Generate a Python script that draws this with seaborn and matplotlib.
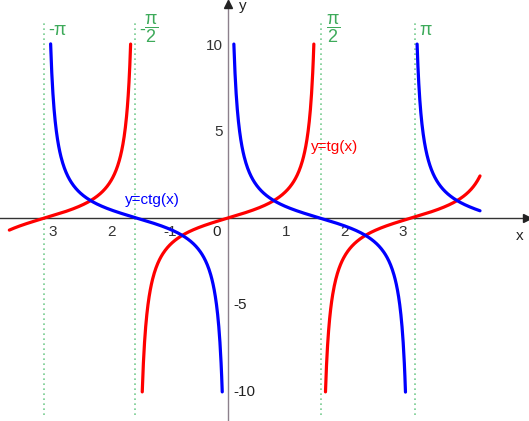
import numpy as np
import pandas as pd
import seaborn as sns
from matplotlib import pyplot as plt

# branch domains (x from, x to)
tg_branches = [(-3.75, -1.6705), (-1.4711, 1.4711), (1.6705, 4.32)]
ctg_branches = [(-3.042, -0.0997), (0.0997, 3.042), (3.2413, 4.32)]

guide_x = [-3.16, -1.6, 1.6, 3.21]
guide_labels = [r"-$\pi$", r"$\dfrac{\pi}{2}$", r"$\dfrac{\pi}{2}$", r"$\pi$"]
guide_minus = [False, True, False, False]
guide_label_y = [10.3, 9.95, 9.95, 10.3]

xtick_pos = [-3, -2, -1, 1, 2, 3]
xtick_labels = ["3", "2", "-1", "1", "2", "3"]
ytick_left = [10, 5]
ytick_right = [-5, -10]

rows = []
for i, (a, b) in enumerate(tg_branches):
	for x in np.linspace(a, b, 300):
		rows.append(("tg", f"tg{i}", x, np.tan(x)))
for i, (a, b) in enumerate(ctg_branches):
	for x in np.linspace(a, b, 300):
		rows.append(("ctg", f"ctg{i}", x, 1 / np.tan(x)))
df = pd.DataFrame(rows, columns=["func", "branch", "x", "y"])

sns.set_theme(style="white")
plt.rcParams['font.family'] = ['Liberation Sans', 'DejaVu Sans']
plt.rcParams['mathtext.fontset'] = 'custom'
plt.rcParams['mathtext.rm'] = 'Liberation Sans'
plt.rcParams['mathtext.it'] = 'Liberation Sans'
plt.rcParams['mathtext.bf'] = 'Liberation Sans:bold'

fig = plt.figure(figsize=(5.29, 4.21), dpi=100)
ax = fig.add_axes([0, 0, 1, 1])
ax.set_xlim(-3.91, 5.16)
ax.set_ylim(-11.67, 12.53)

green = "#3daa5a"
for gx, gl, gy, gm in zip(guide_x, guide_labels, guide_label_y, guide_minus):
	ax.plot([gx, gx], [-11.3, 11.2], ls=(0, (1, 2)), color="#77cc90", lw=1.2, zorder=1)
	dx = 3
	if gm:
		ax.annotate("-", (gx, gy), xytext=(3, 10.5), textcoords="offset points",
			color=green, fontsize=13, ha="left", va="center")
		dx = 7
	ax.annotate(gl, (gx, gy), xytext=(dx, 0), textcoords="offset points",
		color=green, fontsize=13, ha="left", va="bottom")

sns.lineplot(data=df, x="x", y="y", hue="func", units="branch", estimator=None,
	sort=False, palette={"tg": "#ff0000", "ctg": "#0000ff"}, lw=2.3, legend=False, ax=ax, zorder=3)

for side in ["top", "right"]:
	ax.spines[side].set_visible(False)
ax.spines["left"].set_position(("data", 0))
ax.spines["bottom"].set_position(("data", 0))
ax.spines["left"].set_color("#8c808c")
ax.spines["bottom"].set_color("#333333")
ax.spines["left"].set_linewidth(1)
ax.spines["bottom"].set_linewidth(1)
ax.set_xlabel("")
ax.set_ylabel("")

ax.plot(5.13, 0, ">", color="#222222", ms=6, clip_on=False, zorder=4)
ax.plot(0, 12.3, "^", color="#222222", ms=6, clip_on=False, zorder=4)

ax.set_xticks(xtick_pos, xtick_labels)
ax.set_yticks(ytick_left + ytick_right, [str(v) for v in ytick_left] + ["" for v in ytick_right])
ax.tick_params(axis="both", direction="inout", length=6, width=1, colors="#333333",
	labelsize=11)
ax.tick_params(axis="x", pad=2)
ax.tick_params(axis="y", pad=1)
for v in ytick_right:
	ax.annotate(str(v), (0, v), xytext=(4, 0), textcoords="offset points",
		ha="left", va="center", fontsize=11, color="#222222")
ax.annotate("0", (0, 0), xytext=(-5, -5), textcoords="offset points",
	ha="right", va="top", fontsize=11, color="#222222")

ax.annotate("x", (5.0, 0), xytext=(0, -8), textcoords="offset points",
	ha="center", va="top", fontsize=11, color="#222222")
ax.annotate("y", (0, 12.2), xytext=(8, 0), textcoords="offset points",
	ha="left", va="center", fontsize=11, color="#222222")

ax.text(-1.3, 1.05, "y=ctg(x)", color="#0000ff", fontsize=11, ha="center", va="center")
ax.text(1.82, 4.1, "y=tg(x)", color="#ff0000", fontsize=11, ha="center", va="center")

fig.savefig("out.png", dpi=100)
